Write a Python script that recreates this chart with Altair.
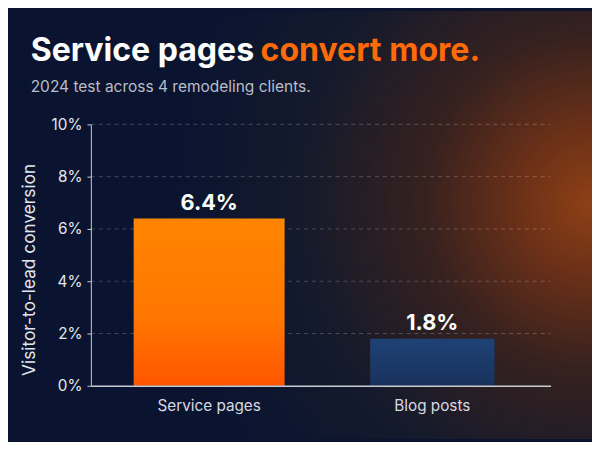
import altair as alt
import pandas as pd

categories = ["Service pages", "Blog posts"]
values = [6.4, 1.8]
labels = ["6.4%", "1.8%"]
y_ticks = [0, 2, 4, 6, 8, 10]

title_white = "Service pages"
title_orange = "convert more."
subtitle = "2024 test across 4 remodeling clients."
y_title = "Visitor-to-lead conversion"

W, H = 466, 265
PAD = {"left": 84, "top": 115, "right": 42, "bottom": 54}
FONT = "Inter"

df = pd.DataFrame({"category": categories, "value": values, "label": labels})
grid_df = pd.DataFrame({"value": y_ticks[1:]})

x_enc = alt.X("category:N", sort=categories,
              scale=alt.Scale(paddingInner=0, paddingOuter=0.03),
              axis=alt.Axis(title=None, labelFontSize=15.5, labelColor="#d6dae2",
                            labelFont=FONT, labelPadding=13, ticks=False,
                            domainColor="#c9ccd2", domainWidth=1.5, labelAngle=0,
                            zindex=2))
y_scale = alt.Scale(domain=[0, 10], nice=False)
y_axis = alt.Axis(values=y_ticks, labelExpr="datum.value + '%'",
                  title=y_title, titleFont=FONT, titleFontSize=17.5,
                  titleFontWeight="normal", titleColor="#e4e6ec",
                  titleAngle=270, titleX=-62, titleY=147,
                  titleAlign="center", titleBaseline="middle",
                  labelFont=FONT, labelFontSize=15.5, labelColor="#e4e6ec",
                  labelPadding=5, tickSize=4, tickColor="#c9ccd2",
                  domainColor="#c9ccd2", domainWidth=1, grid=False,
                  zindex=2)
y_enc = alt.Y("value:Q", scale=y_scale, axis=y_axis, title=y_title)

bg = alt.Chart(alt.Data(values=[{}])).mark_rect(
    fill={
        "gradient": "radial",
        "x1": 1.0, "y1": 0.46, "r1": 0,
        "x2": 1.0, "y2": 0.46, "r2": 0.72,
        "stops": [
            {"offset": 0.0, "color": "#8e4015"},
            {"offset": 0.18, "color": "#6a3018"},
            {"offset": 0.4, "color": "#36211f"},
            {"offset": 0.7, "color": "#141a2c"},
            {"offset": 1.0, "color": "#0a1430"},
        ],
    }
).encode(
    x=alt.value(-PAD["left"]), x2=alt.value(W + PAD["right"]),
    y=alt.value(-PAD["top"]), y2=alt.value(H + PAD["bottom"]),
)

grid = alt.Chart(grid_df).mark_rule(
    color="#ffffff", opacity=0.22, strokeDash=[4, 4], strokeWidth=1
).encode(
    y=y_enc,
    x=alt.value(0), x2=alt.value(W),
)

base = alt.Chart(df)

orange_bar = base.transform_filter(alt.datum.category == categories[0]).mark_bar(
    width=153,
    color={"gradient": "linear", "x1": 0, "y1": 0, "x2": 0, "y2": 1,
           "stops": [{"offset": 0, "color": "#ff8500"},
                     {"offset": 0.6, "color": "#ff7600"},
                     {"offset": 1, "color": "#ff5600"}]},
).encode(x=x_enc, y=y_enc)

blue_bar = base.transform_filter(alt.datum.category == categories[1]).mark_bar(
    width=126,
    color={"gradient": "linear", "x1": 0, "y1": 0, "x2": 0, "y2": 1,
           "stops": [{"offset": 0, "color": "#1f4275"},
                     {"offset": 1, "color": "#18325d"}]},
).encode(x=x_enc, y=y_enc)

value_text = base.mark_text(
    font=FONT, fontSize=22, fontWeight="bold", color="#ffffff",
    baseline="alphabetic", dy=-9
).encode(x=x_enc, y=y_enc, text="label:N")

t1 = alt.Chart(alt.Data(values=[{"t": title_white}])).mark_text(
    font=FONT, fontSize=32.5, fontWeight="bold", color="#ffffff",
    align="left", baseline="alphabetic"
).encode(x=alt.value(-61), y=alt.value(-64), text="t:N")

t2 = alt.Chart(alt.Data(values=[{"t": title_orange}])).mark_text(
    font=FONT, fontSize=32.5, fontWeight="bold", color="#ff6a0a",
    align="left", baseline="alphabetic"
).encode(x=alt.value(172), y=alt.value(-64), text="t:N")

t3 = alt.Chart(alt.Data(values=[{"t": subtitle}])).mark_text(
    font=FONT, fontSize=15.7, color="#b9bdc8",
    align="left", baseline="alphabetic"
).encode(x=alt.value(-61), y=alt.value(-33), text="t:N")

chart = alt.layer(bg, grid, orange_bar, blue_bar, value_text, t1, t2, t3).properties(
    width=W, height=H, padding=PAD,
    autosize=alt.AutoSizeParams(type="none"),
    background="#0a1430",
).configure_view(stroke=None)

chart.save("out.html", embed_options={"renderer": "svg", "actions": False})
